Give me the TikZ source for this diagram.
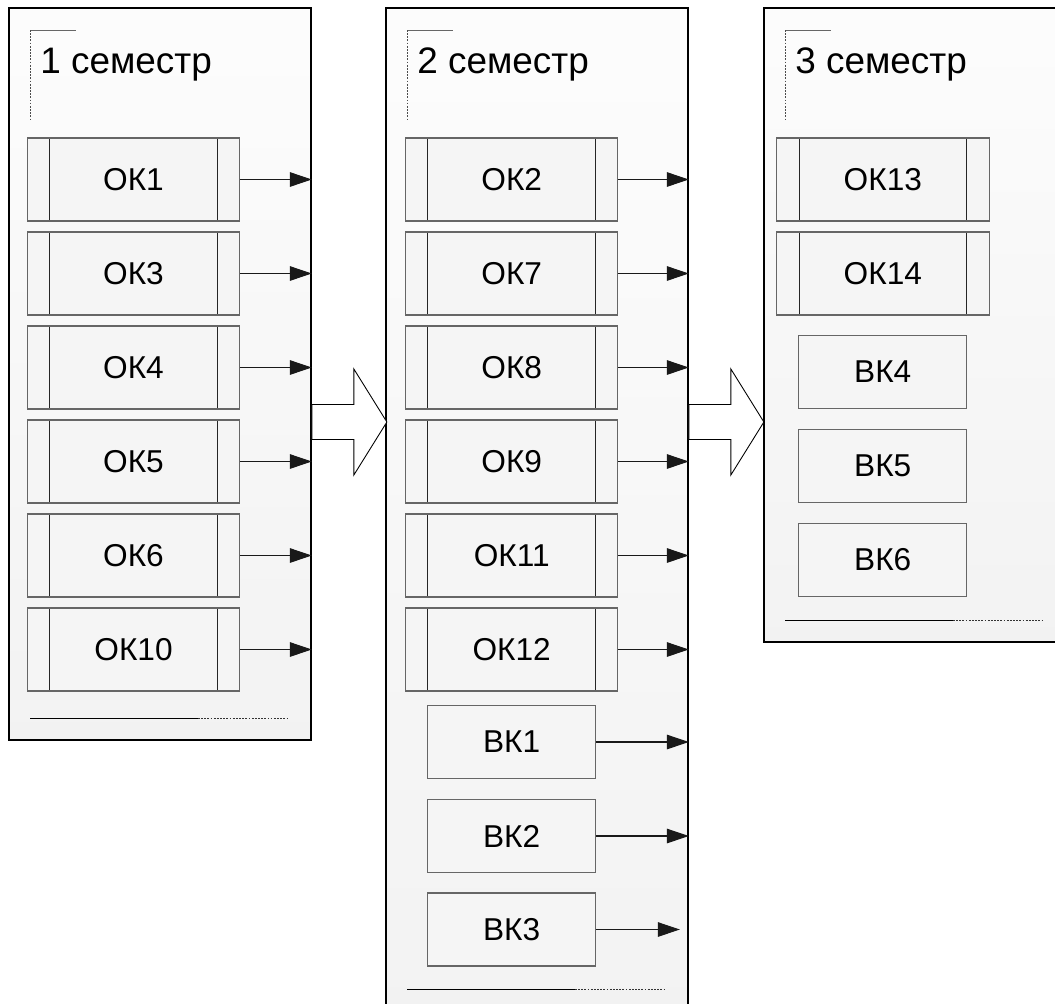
\documentclass[tikz,border=0pt]{standalone}
\usepackage{fontspec}
\setmainfont{Liberation Sans}
\usetikzlibrary{arrows.meta,calc,positioning}

\tikzset{
  semester/.style={draw=black, line width=1.1pt, anchor=north west, inner sep=0pt,
    minimum width=6.04cm, top color=white!99!black, bottom color=white!95!black},
  semtitle/.style={anchor=base west, inner sep=0pt, font=\fontsize{21}{25}\selectfont},
  okbox/.style={draw=black!60, line width=0.6pt, fill=white!96!black,
    minimum width=4.25cm, minimum height=1.66cm, inner sep=0pt,
    font=\fontsize{18}{22}\selectfont,
    path picture={
      \draw[black!85, line width=0.6pt]
        ([xshift=0.45cm]path picture bounding box.north west) -- ([xshift=0.45cm]path picture bounding box.south west)
        ([xshift=-0.45cm]path picture bounding box.north east) -- ([xshift=-0.45cm]path picture bounding box.south east);}},
  vkbox/.style={draw=black!60, line width=0.6pt, fill=white!96!black,
    minimum width=3.36cm, minimum height=1.46cm, inner sep=0pt,
    font=\fontsize{18}{22}\selectfont},
  link/.style={black!90, line width=0.6pt, -{Triangle[length=0.44cm, width=0.29cm]}},
  bigarrow/.style={draw=black, line width=0.5pt, fill=white, line join=miter}
}

\begin{document}
\begin{tikzpicture}[x=0.02cm, y=-0.02cm]
\clip (0,0) rectangle (1055,1004);
% semesters
\node[semester, minimum height=14.64cm] (sem1) at (8,7) {};
\node[semester, minimum height=20.06cm] (sem2) at (385,7) {};
\node[semester, minimum height=12.68cm] (sem3) at (763,7) {};

% headers and footers
\foreach \p in {1,2,3} {
  \draw[black!60, line width=0.5pt] ($(sem\p.north west)+(22,23)$) -- ++(46,0);
  \draw[black!70, line width=0.5pt, dash pattern=on 1pt off 0.8pt] ($(sem\p.north west)+(22,23)$) -- ++(0,90);
  \node[semtitle] (title\p) at ($(sem\p.north west)+(32,66)$) {\p{} семестр};
  \draw[black, line width=0.5pt] ($(sem\p.south west)+(22,-22)$) -- ++(168,0) coordinate (f\p);
  \draw[black!80, line width=0.5pt, dash pattern=on 1pt off 0.8pt] (f\p) -- ++(89,0);
}

% 1 semester
\foreach \n/\y in {1/179.5, 3/273.5, 4/367.5, 5/461.5, 6/555.5, 10/649.5} {
  \node[okbox] (ok\n) at (133.5,\y) {ОК\n};
  \draw[link] (ok\n.east) -- (ok\n.east -| sem1.east);
}

% 2 semester
\foreach \n/\y in {2/179.5, 7/273.5, 8/367.5, 9/461.5, 11/555.5, 12/649.5} {
  \node[okbox] (ok\n) at (511.7,\y) {ОК\n};
  \draw[link] (ok\n.east) -- (ok\n.east -| sem2.east);
}
\foreach \n/\y in {1/742, 2/836} {
  \node[vkbox] (vk\n) at (511.7,\y) {ВК\n};
  \draw[link] (vk\n.east) -- (vk\n.east -| sem2.east);
}
\node[vkbox] (vk3) at (511.7,929.5) {ВК3};
\draw[link, shorten >=0.18cm] (vk3.east) -- (vk3.east -| sem2.east);

% 3 semester
\foreach \n/\y in {13/179.5, 14/273.5} \node[okbox] (ok\n) at (882.8,\y) {ОК\n};
\foreach \n/\y in {4/372, 5/466, 6/560} \node[vkbox] (vk\n) at (882.7,\y) {ВК\n};

% transitions
\foreach \p in {1,2}
  \draw[bigarrow] ($(sem\p.north east)+(0,397.5)$) -- ++(42,0) -- ++(0,-35.5) -- ++(33,53) -- ++(-33,53) -- ++(0,-35.5) -- ++(-42,0) -- cycle;
\end{tikzpicture}
\end{document}
